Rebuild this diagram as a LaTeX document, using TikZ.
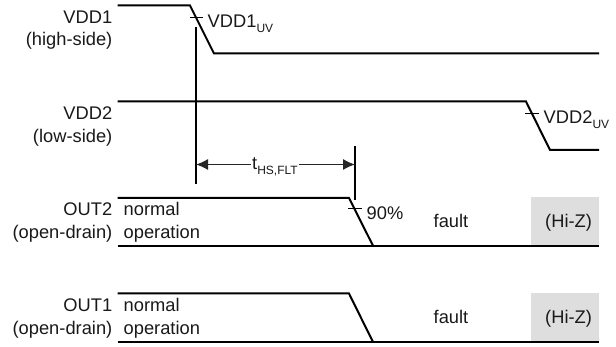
\documentclass[tikz,border=0pt]{standalone}
\usepackage{fontspec}
\setmainfont{Liberation Sans}
\usetikzlibrary{arrows.meta}
\newcommand{\subtxt}[1]{\raisebox{-0.22em}{\fontsize{12}{12}\selectfont #1}}
\tikzset{
  wave/.style={line width=2pt,line join=miter,black},
  tickmark/.style={line width=1pt,black},
  marker/.style={line width=2pt,black},
  lbl/.style={font=\fontsize{18.3}{19}\selectfont,inner sep=0pt,text=black!90},
  side/.style={lbl,anchor=base east},
  txt/.style={lbl,anchor=base west},
  hiz/.style={fill=black!13,draw=none},
  dim/.style={line width=1pt,black!85,-{Latex[length=12pt,width=11pt]}}
}
\begin{document}
\begin{tikzpicture}[x=1pt,y=-1pt]
\useasboundingbox (0,0) rectangle (616,347);
\fill[hiz] (531,197) rectangle (599,245);
\fill[hiz] (531,293) rectangle (599,342);
% waveforms
\draw[wave] (117.5,5.5) -- (190,5.5) -- (214,53.5) -- (599,53.5);
\draw[wave] (117.5,101.5) -- (526,101.5) -- (550,150) -- (599,150);
\draw[wave] (117.5,198) -- (349,198) -- (373,245.7);
\draw[wave] (117.5,245.7) -- (599,245.7);
\draw[wave] (117.5,293.5) -- (349,293.5) -- (373,342);
\draw[wave] (117.5,342) -- (599,342);
% threshold ticks
\draw[tickmark] (190,17.5) -- (203,17.5);
\draw[tickmark] (525,114) -- (539,114);
\draw[tickmark] (348,209) -- (362,209);
% time markers
\coordinate (m1top) at (196,27);
\coordinate (m1bot) at (196,184);
\coordinate (m2top) at (355,146);
\coordinate (m2bot) at (355,200.5);
\coordinate (a1) at (196,164.5);
\coordinate (a2) at (355,164.5);
\draw[marker] (m1top) -- (m1bot);
\draw[marker] (m2top) -- (m2bot);
\node[lbl,anchor=base,inner xsep=1pt] (tflt) at (275,170) {t\subtxt{HS,FLT}};
\draw[dim] (tflt.west |- a1) -- (a1);
\draw[dim] (tflt.east |- a2) -- (a2);
% labels
\node[side] (vddone) at (112.5,24) {VDD1};
\node[side] (vddones) at (112.5,46) {(high-side)};
\node[side] (vddtwo) at (112.5,120) {VDD2};
\node[side] (vddtwos) at (112.5,143) {(low-side)};
\node[side] (outtwo) at (112.5,215.5) {OUT2};
\node[side] (outtwos) at (112.5,239) {(open-drain)};
\node[side] (outone) at (112.5,311.5) {OUT1};
\node[side] (outones) at (112.5,335) {(open-drain)};
\node[txt] (uvone) at (207.5,28) {VDD1\subtxt{UV}};
\node[txt] (uvtwo) at (543.5,124) {VDD2\subtxt{UV}};
\node[txt] (pct) at (366.5,219.5) {90\%};
\node[txt] (nortwo) at (123.5,215.5) {normal};
\node[txt] (optwo) at (123.5,239) {operation};
\node[txt] (norone) at (123.5,311.5) {normal};
\node[txt] (opone) at (123.5,335) {operation};
\node[txt] (ftwo) at (433.5,228) {fault};
\node[txt] (fone) at (433.5,324) {fault};
\node[txt] (hztwo) at (545,228) {(Hi-Z)};
\node[txt] (hzone) at (545,324) {(Hi-Z)};
\end{tikzpicture}
\end{document}
